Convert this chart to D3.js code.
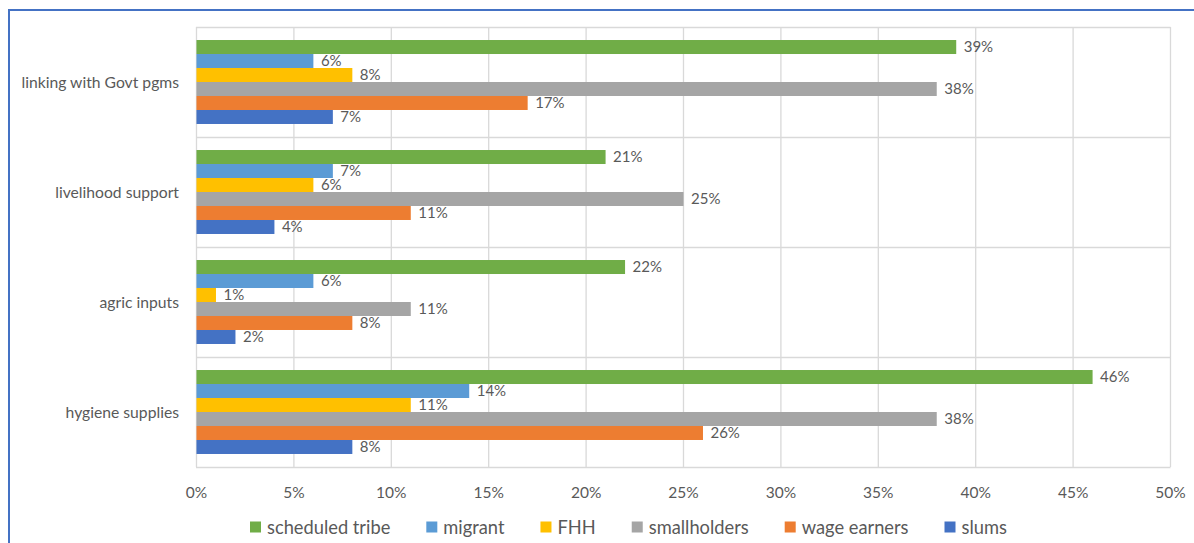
<!DOCTYPE html>
<html><head><meta charset="utf-8">
<script src="https://cdn.jsdelivr.net/npm/d3@7"></script>
<style>
html,body{margin:0;padding:0;background:#fff;}
svg{display:block;font-family:Lato, "Open Sans", sans-serif;}
</style></head>
<body>
<svg id="chart" width="1194" height="543"></svg>
<script>
const categories = ["linking with Govt pgms", "livelihood support", "agric inputs", "hygiene supplies"];
const seriesNames = ["scheduled tribe", "migrant", "FHH", "smallholders", "wage earners", "slums"];
const scheduledTribe = [39, 21, 22, 46];
const migrant = [6, 7, 6, 14];
const fhh = [8, 6, 1, 11];
const smallholders = [38, 25, 11, 38];
const wageEarners = [17, 11, 8, 26];
const slums = [7, 4, 2, 8];
const xTicks = [0, 5, 10, 15, 20, 25, 30, 35, 40, 45, 50];
const colors = ["#70AD47", "#5B9BD5", "#FFC000", "#A5A5A5", "#ED7D31", "#4472C4"];

const seriesValues = [scheduledTribe, migrant, fhh, smallholders, wageEarners, slums];

const svg = d3.select("#chart");
const plotLeft = 196, plotRight = 1170, plotTop = 27, plotBottom = 467;
const textColor = "#595959", gridColor = "#D9D9D9";

// screenshot frame
svg.append("line").attr("x1", 9).attr("x2", 1194).attr("y1", 10).attr("y2", 10)
  .attr("stroke", "#4472C4").attr("stroke-width", 2);
svg.append("line").attr("x1", 9).attr("x2", 9).attr("y1", 9).attr("y2", 543)
  .attr("stroke", "#4472C4").attr("stroke-width", 2);

const x = d3.scaleLinear().domain([0, 50]).range([plotLeft, plotRight]);
const y = d3.scaleBand().domain(categories).range([plotTop, plotBottom]).padding(0);
const yInner = d3.scaleBand().domain(seriesNames).range([0, y.bandwidth()])
  .paddingInner(0).paddingOuter(0.93);

// gridlines vertical
svg.append("g").selectAll("line").data(xTicks).join("line")
  .attr("x1", d => x(d) + 0.5).attr("x2", d => x(d) + 0.5)
  .attr("y1", plotTop).attr("y2", plotBottom)
  .attr("stroke", gridColor).attr("stroke-width", 1.3);
// horizontal band lines
const hLines = categories.map(c => y(c)).concat([plotBottom]);
svg.append("g").selectAll("line").data(hLines).join("line")
  .attr("x1", plotLeft).attr("x2", plotRight + 0.5)
  .attr("y1", d => d + 0.5).attr("y2", d => d + 0.5)
  .attr("stroke", gridColor).attr("stroke-width", 1.3);

// bars
const groups = svg.append("g").selectAll("g").data(categories).join("g")
  .attr("transform", c => `translate(0,${y(c)})`);
groups.each(function(c, ci) {
  const g = d3.select(this);
  seriesNames.forEach((s, si) => {
    const v = seriesValues[si][ci];
    g.append("rect")
      .attr("x", x(0) + 0.5).attr("y", yInner(s))
      .attr("width", x(v) - x(0)).attr("height", yInner.bandwidth())
      .attr("fill", colors[si]);
    g.append("text")
      .attr("x", x(v) + 8).attr("y", yInner(s) + yInner.bandwidth() / 2)
      .attr("dy", "0.36em")
      .attr("fill", textColor).attr("font-size", 15)
      .text(v + "%");
  });
});

// category labels
svg.append("g").selectAll("text").data(categories).join("text")
  .attr("x", 179).attr("y", c => y(c) + y.bandwidth() / 2).attr("dy", "0.36em")
  .attr("text-anchor", "end").attr("fill", textColor).attr("font-size", 15.7)
  .text(c => c);

// x axis tick labels
const xAxis = d3.axisBottom(x).tickValues(xTicks).tickFormat(d => d + "%").tickSize(0).tickPadding(0);
const ax = svg.append("g").attr("transform", `translate(0,${plotBottom})`).call(xAxis);
ax.select(".domain").remove();
ax.selectAll("text").attr("y", 25).attr("dy", "0.36em")
  .attr("fill", textColor).attr("font-size", 15.5).attr("font-family", "Lato, sans-serif");

// legend
const legend = svg.append("g").attr("transform", "translate(250,527)");
let lx = 0;
seriesNames.forEach((s, i) => {
  const item = legend.append("g").attr("transform", `translate(${lx},0)`);
  item.append("rect").attr("x", 0).attr("y", -5.5).attr("width", 11).attr("height", 11).attr("fill", colors[i]);
  const t = item.append("text").attr("x", 17).attr("y", 0).attr("dy", "0.36em")
    .attr("fill", textColor).attr("font-size", 18.3).text(s);
  lx += 17 + t.node().getComputedTextLength() + 36;
});
</script>
</body></html>
